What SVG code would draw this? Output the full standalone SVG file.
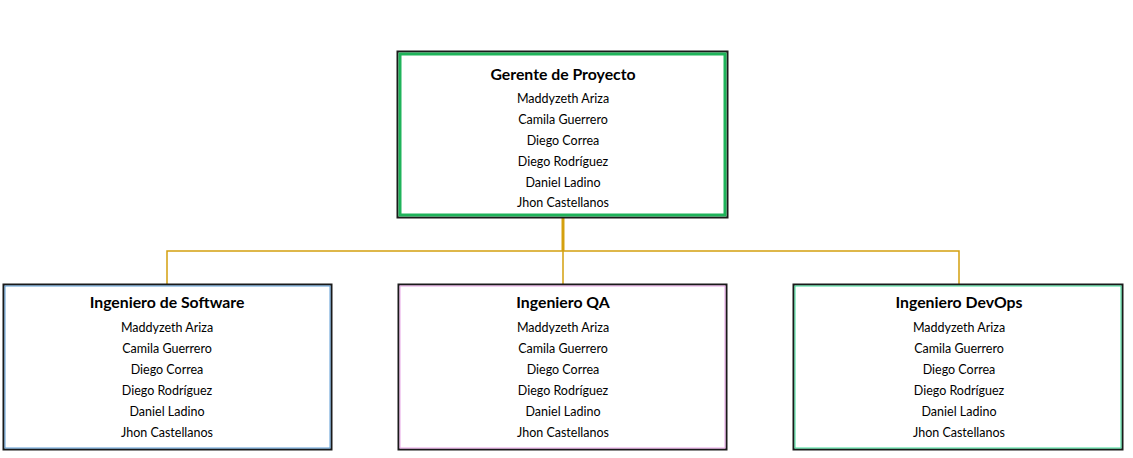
<svg xmlns="http://www.w3.org/2000/svg" width="1133" height="458" viewBox="0 0 1133 458">
<style>
.t{font-family:Lato,"Open Sans",sans-serif;font-size:15.8px;font-weight:bold;fill:#000;text-anchor:middle}
.n{font-family:Lato,"Open Sans",sans-serif;font-size:12.5px;fill:#000;text-anchor:middle}
.o{fill:#fff;stroke:#1a1a1a;stroke-width:2}
.c{fill:none;stroke:#d4a00f;stroke-width:1.5}
</style>
<rect width="1133" height="458" fill="#fff"/>
<g id="connectors">
<path class="c" d="M563 217V251" style="stroke-width:3"/>
<path class="c" d="M167 284V251H959V284M563 251V284"/>
</g>
<g id="gerente">
<rect class="o" x="397.5" y="51.5" width="330" height="166"/>
<rect x="400" y="54" width="325" height="161" fill="none" stroke="#1fb35a" stroke-width="3"/>
<text class="t" x="563" y="80">Gerente de Proyecto</text>
<text class="n" x="563" y="103">Maddyzeth Ariza</text>
<text class="n" x="563" y="124">Camila Guerrero</text>
<text class="n" x="563" y="145">Diego Correa</text>
<text class="n" x="563" y="166">Diego Rodríguez</text>
<text class="n" x="563" y="187">Daniel Ladino</text>
<text class="n" x="563" y="207">Jhon Castellanos</text>
</g>
<g id="software">
<rect class="o" x="3.5" y="284.5" width="328" height="165" stroke="#1d2b44"/>
<rect x="5" y="286" width="325" height="162" fill="none" stroke="#5b9bd5" stroke-width="1"/>
<text class="t" x="167" y="308">Ingeniero de Software</text>
<text class="n" x="167" y="332">Maddyzeth Ariza</text>
<text class="n" x="167" y="353">Camila Guerrero</text>
<text class="n" x="167" y="374">Diego Correa</text>
<text class="n" x="167" y="395">Diego Rodríguez</text>
<text class="n" x="167" y="416">Daniel Ladino</text>
<text class="n" x="167" y="437">Jhon Castellanos</text>
</g>
<g id="qa">
<rect class="o" x="398.5" y="284.5" width="328" height="165" stroke="#3a2a3e"/>
<rect x="400" y="286" width="325" height="162" fill="none" stroke="#e7a3e6" stroke-width="1"/>
<text class="t" x="563" y="308">Ingeniero QA</text>
<text class="n" x="563" y="332">Maddyzeth Ariza</text>
<text class="n" x="563" y="353">Camila Guerrero</text>
<text class="n" x="563" y="374">Diego Correa</text>
<text class="n" x="563" y="395">Diego Rodríguez</text>
<text class="n" x="563" y="416">Daniel Ladino</text>
<text class="n" x="563" y="437">Jhon Castellanos</text>
</g>
<g id="devops">
<rect class="o" x="793.5" y="284.5" width="329" height="165" stroke="#2a2a2a"/>
<rect x="795" y="286" width="326" height="162" fill="none" stroke="#3ddc97" stroke-width="1"/>
<text class="t" x="959" y="308">Ingeniero DevOps</text>
<text class="n" x="959" y="332">Maddyzeth Ariza</text>
<text class="n" x="959" y="353">Camila Guerrero</text>
<text class="n" x="959" y="374">Diego Correa</text>
<text class="n" x="959" y="395">Diego Rodríguez</text>
<text class="n" x="959" y="416">Daniel Ladino</text>
<text class="n" x="959" y="437">Jhon Castellanos</text>
</g>
</svg>
